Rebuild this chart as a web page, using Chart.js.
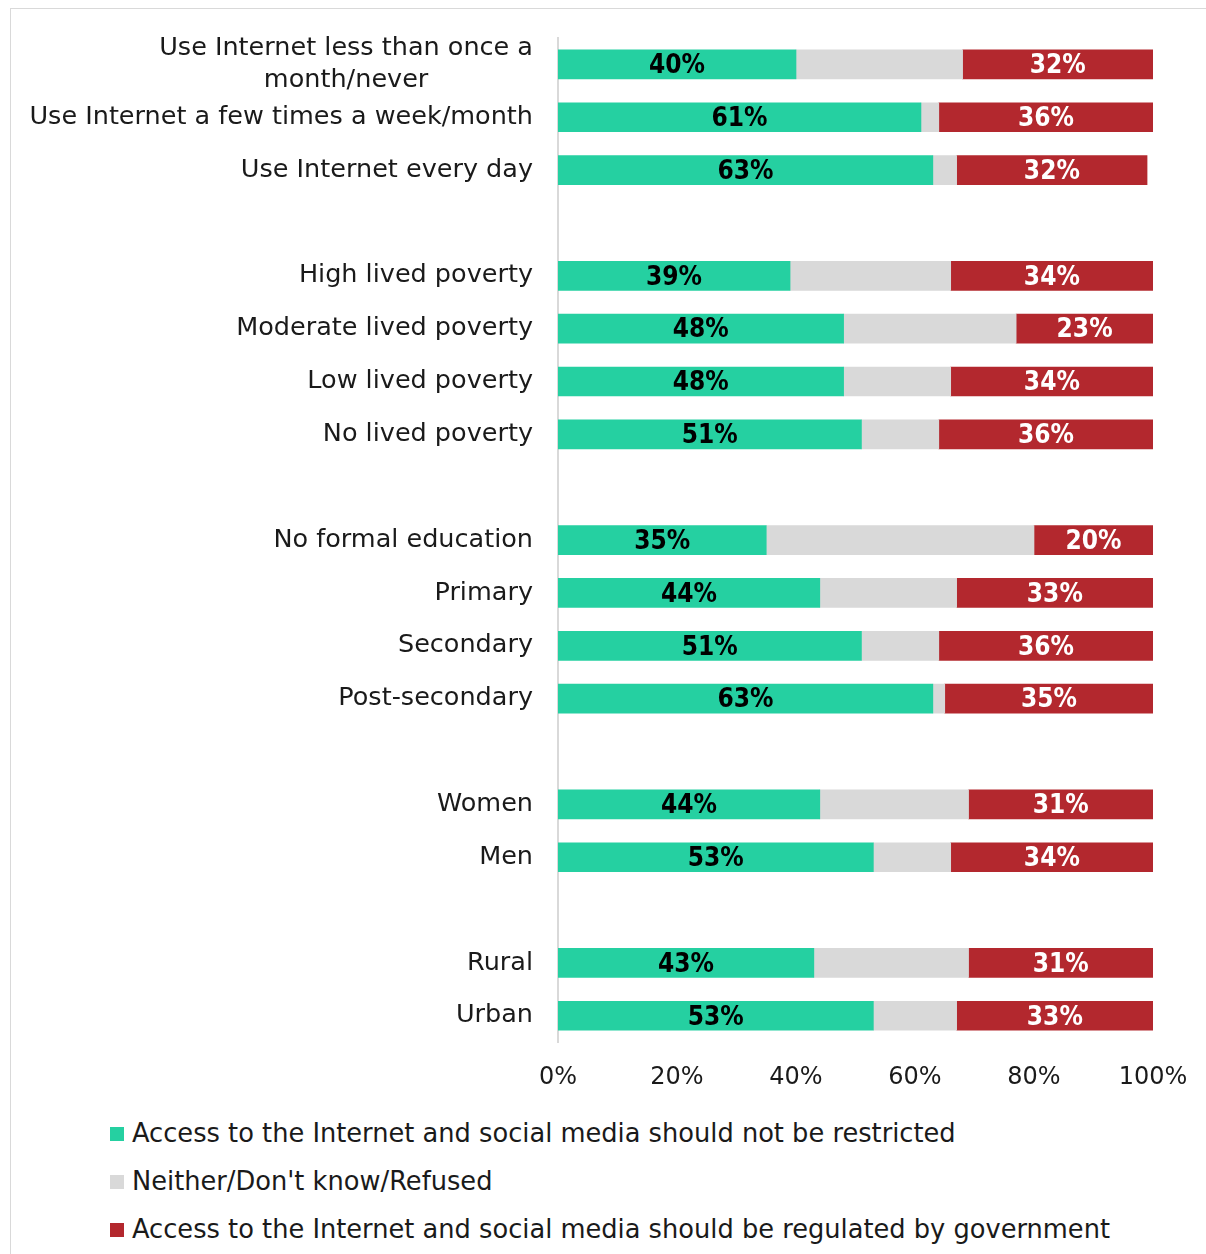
<!DOCTYPE html>
<html>
<head>
<meta charset="utf-8">
<script src="https://cdn.jsdelivr.net/npm/chart.js@4.4.1/dist/chart.umd.min.js"></script>
<style>
  body { margin: 0; background: #fff; width: 1206px; height: 1254px; overflow: hidden; position: relative; }
  .frame { position: absolute; left: 10px; top: 8px; width: 1220px; height: 1270px; border: 1px solid #d9d9d9; }
  .chart-box { position: absolute; left: 0; top: 0; width: 1206px; height: 1112px; }
  .legend { position: absolute; left: 110px; top: 1112px; font-family: 'DejaVu Sans', sans-serif; font-size: 25.7px; color: #1a1a1a; }
  .legend div { height: 48px; line-height: 42px; white-space: nowrap; }
  .legend span { display: inline-block; width: 14px; height: 14px; margin-right: 8px; vertical-align: 1px; }
</style>
</head>
<body>
<div class="frame"></div>
<div class="chart-box"><canvas id="chart"></canvas></div>
<div class="legend" id="legend"></div>
<script>
// Categories (empty strings are the gaps between groups)
var categories = [
    ['Use Internet less than once a', 'month/never'],
    'Use Internet a few times a week/month',
    'Use Internet every day',
    '',
    'High lived poverty',
    'Moderate lived poverty',
    'Low lived poverty',
    'No lived poverty',
    '',
    'No formal education',
    'Primary',
    'Secondary',
    'Post-secondary',
    '',
    'Women',
    'Men',
    '',
    'Rural',
    'Urban'
];

var notRestricted = [40, 61, 63, null, 39, 48, 48, 51, null, 35, 44, 51, 63, null, 44, 53, null, 43, 53];
var neither       = [28, 3, 4, null, 27, 29, 18, 13, null, 45, 23, 13, 2, null, 25, 13, null, 26, 14];
var regulated     = [32, 36, 32, null, 34, 23, 34, 36, null, 20, 33, 36, 35, null, 31, 34, null, 31, 33];

var seriesNames = [
    'Access to the Internet and social media should not be restricted',
    'Neither/Don\'t know/Refused',
    'Access to the Internet and social media should be regulated by government'
];
var xTicks = [0, 20, 40, 60, 80, 100];

var colors = ['#25d0a1', '#d9d9d9', '#b3282e'];
var labelFont = "'DejaVu Sans', sans-serif";

// Draws the category labels, multi-line ones centred on themselves like the original
var categoryLabels = {
    id: 'categoryLabels',
    afterDraw: function (chart) {
        var ctx = chart.ctx;
        var yScale = chart.scales.y;
        var right = chart.chartArea.left - 25;
        ctx.save();
        ctx.font = '25.5px ' + labelFont;
        ctx.fillStyle = '#1a1a1a';
        ctx.textBaseline = 'middle';
        categories.forEach(function (label, i) {
            if (!label) return;
            var y = yScale.getPixelForValue(i);
            if (Array.isArray(label)) {
                var maxW = Math.max.apply(null, label.map(function (l) { return ctx.measureText(l).width; }));
                var cx = right - maxW / 2;
                var lineH = 32;
                var top = y - (label.length - 1) * lineH / 2;
                ctx.textAlign = 'center';
                label.forEach(function (l, j) { ctx.fillText(l, cx, top + j * lineH); });
            } else {
                ctx.textAlign = 'right';
                ctx.fillText(label, right, y);
            }
        });
        ctx.restore();
    }
};

// Writes the percentages into the green and red bars
var barValues = {
    id: 'barValues',
    afterDatasetsDraw: function (chart) {
        var ctx = chart.ctx;
        ctx.save();
        ctx.font = 'bold 26px ' + labelFont;
        ctx.fontStretch = 'condensed';
        ctx.textAlign = 'center';
        ctx.textBaseline = 'middle';
        [0, 2].forEach(function (di) {
            var meta = chart.getDatasetMeta(di);
            ctx.fillStyle = di === 0 ? '#000' : '#fff';
            meta.data.forEach(function (bar, i) {
                var v = chart.data.datasets[di].data[i];
                if (v == null) return;
                ctx.fillText(v + '%', (bar.x + bar.base) / 2, bar.y + 2);
            });
        });
        ctx.restore();
    }
};

var chart = new Chart(document.getElementById('chart'), {
    type: 'bar',
    data: {
        labels: categories,
        datasets: [
            { label: seriesNames[0], data: notRestricted, backgroundColor: colors[0] },
            { label: seriesNames[1], data: neither, backgroundColor: colors[1] },
            { label: seriesNames[2], data: regulated, backgroundColor: colors[2] }
        ]
    },
    options: {
        indexAxis: 'y',
        responsive: true,
        maintainAspectRatio: false,
        animation: false,
        barThickness: 29,
        layout: { padding: { left: 558, right: 53, top: 38, bottom: 7 } },
        plugins: {
            legend: { display: false },
            tooltip: { enabled: false }
        },
        scales: {
            x: {
                stacked: true,
                min: 0,
                max: 100,
                afterBuildTicks: function (scale) {
                    scale.ticks = xTicks.map(function (v) { return { value: v }; });
                },
                grid: { display: false },
                border: { display: false },
                ticks: {
                    padding: 13,
                    color: '#1a1a1a',
                    font: { family: labelFont, size: 24 },
                    callback: function (v) { return v + '%'; }
                }
            },
            y: {
                stacked: true,
                grid: { display: false, drawTicks: false },
                border: { display: true, color: '#d9d9d9', width: 2 },
                ticks: { display: false }
            }
        }
    },
    plugins: [categoryLabels, barValues]
});

// Legend, one entry per line as in the original
var legendHtml = '';
seriesNames.forEach(function (name, i) {
    legendHtml += '<div><span style="background:' + colors[i] + '"></span>' + name + '</div>';
});
document.getElementById('legend').innerHTML = legendHtml;
</script>
</body>
</html>
